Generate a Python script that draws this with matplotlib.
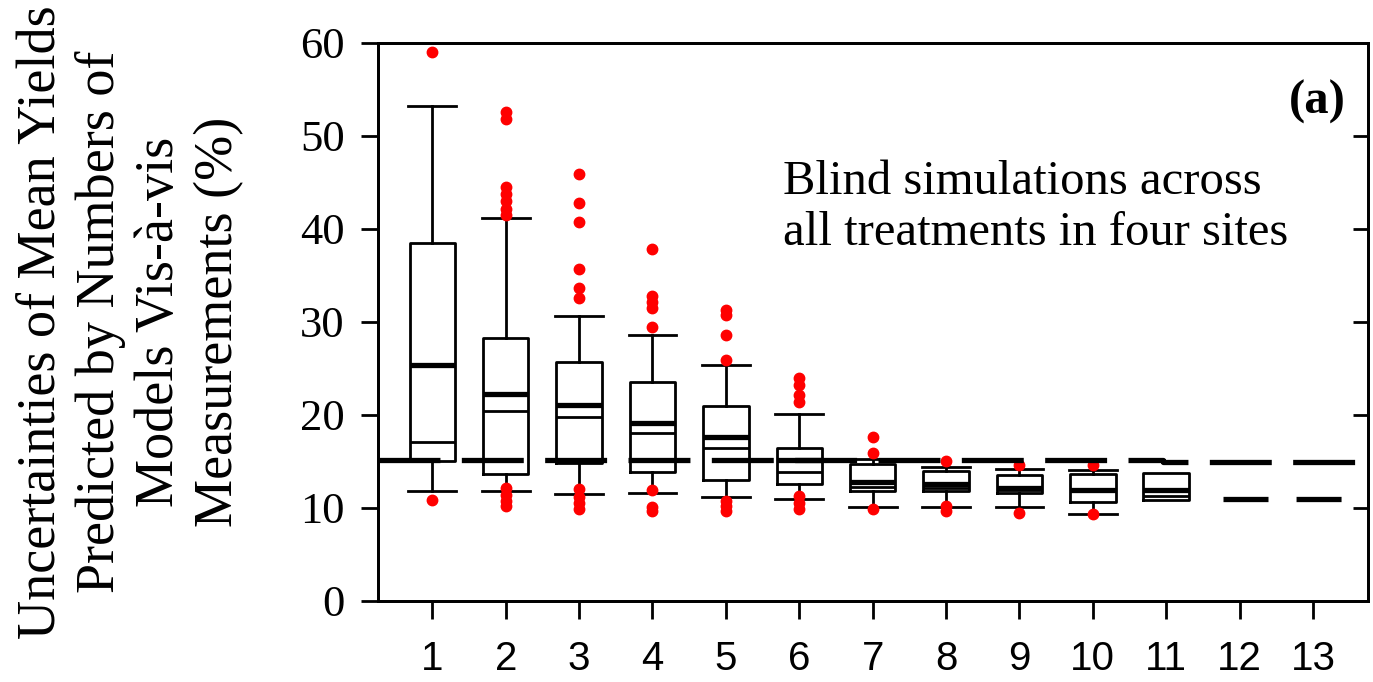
import matplotlib
matplotlib.use("Agg")
import matplotlib.pyplot as plt

plt.rcParams['font.family'] = ['Liberation Serif', 'DejaVu Serif']
plt.rcParams['lines.scale_dashes'] = False

# number of models in the ensemble
n_models = [1, 2, 3, 4, 5, 6, 7, 8, 9, 10, 11]

# box statistics (%)
q1 = [15.0, 13.6, 14.8, 13.9, 13.0, 12.6, 11.8, 11.8, 11.6, 10.6, 10.9]
med = [17.1, 20.4, 19.8, 18.1, 16.4, 13.9, 12.3, 12.2, 11.9, 11.9, 11.3]
mean = [25.4, 22.3, 21.1, 19.1, 17.6, 15.2, 12.8, 12.6, 12.1, 11.9, 11.9]
q3 = [38.5, 28.3, 25.7, 23.5, 21.0, 16.5, 14.7, 14.0, 13.5, 13.6, 13.8]
whislo = [11.8, 11.8, 11.5, 11.6, 11.2, 11.0, 10.1, 10.1, 10.1, 9.3, 10.9]
whishi = [53.2, 41.2, 30.6, 28.6, 25.4, 20.1, 15.3, 14.4, 14.2, 14.1, 13.8]
outliers = [
    [59.0, 10.9],
    [52.6, 51.8, 44.5, 43.8, 43.0, 42.2, 41.5, 12.2, 11.4, 10.8, 10.2],
    [45.9, 42.8, 40.8, 35.7, 33.6, 32.6, 12.0, 11.2, 10.5, 9.9],
    [37.9, 32.8, 32.2, 31.5, 29.5, 11.9, 10.1, 9.7],
    [31.3, 30.8, 28.6, 25.9, 10.8, 10.2, 9.7],
    [24.0, 23.2, 22.2, 21.4, 11.3, 10.5, 9.9],
    [17.6, 15.9, 9.9],
    [15.0, 10.2, 9.7],
    [14.6, 9.5],
    [14.6, 9.4],
    [],
]

# thick dashed reference lines
ref_upper_x = [0.26, 10.95, 10.95, 13.75]
ref_upper_y = [15.2, 15.2, 14.9, 14.9]
ref_lower_x = [11.77, 13.45]
ref_lower_y = [11.0, 11.0]

x_ticks = list(range(1, 14))
y_ticks = [0, 10, 20, 30, 40, 50, 60]

stats = []
for i in range(len(n_models)):
    stats.append(dict(q1=q1[i], med=med[i], mean=mean[i], q3=q3[i],
                      whislo=whislo[i], whishi=whishi[i], fliers=outliers[i]))

fig = plt.figure(figsize=(13.73, 6.82), dpi=100)
ax = fig.add_axes([0.2753, 0.1188, 0.7211, 0.8182])

box_kw = dict(widths=0.62, capwidths=0.65, showmeans=True, meanline=True,
              boxprops=dict(color='black', linewidth=2),
              whiskerprops=dict(color='black', linewidth=2),
              capprops=dict(color='black', linewidth=2),
              medianprops=dict(color='black', linewidth=2),
              meanprops=dict(color='black', linewidth=3.8, linestyle='-'),
              flierprops=dict(marker='o', markerfacecolor='red', markeredgecolor='red',
                              markersize=7.5))

ax.bxp(stats[:10], positions=n_models[:10], **box_kw)
ax.bxp(stats[10:], positions=n_models[10:], showcaps=False, **box_kw)

ax.plot(ref_upper_x, ref_upper_y, color='black', linewidth=3.8,
        dashes=(44.6, 15.4), dash_capstyle='butt')
ax.plot(ref_lower_x, ref_lower_y, color='black', linewidth=3.8,
        dashes=(32.4, 20.2), dash_capstyle='butt')

ax.set_xlim(0.26, 13.75)
ax.set_ylim(0, 60)
ax.set_xticks(x_ticks)
ax.set_xticklabels([str(t) for t in x_ticks], family='Liberation Sans', fontsize=29)
ax.set_yticks(y_ticks)
ax.tick_params(axis='y', direction='out', length=12, width=2, pad=12, labelsize=32)
ax.tick_params(axis='x', direction='out', length=13, width=2, pad=15)
for s in ax.spines.values():
    s.set_linewidth(2)

ax2 = ax.twinx()
ax2.set_ylim(0, 60)
ax2.set_yticks([10, 20, 30, 40, 50])
ax2.tick_params(axis='y', direction='in', length=11, width=2, labelright=False)
for s in ax2.spines.values():
    s.set_linewidth(2)

ax.set_ylabel('Uncertainties of Mean Yields\nPredicted by Numbers of\nModels Vis-à-vis\nMeasurements (%)',
              fontsize=39, linespacing=1.22, labelpad=40)

ax.text(0.409, 0.79, 'Blind simulations across\nall treatments in four sites',
        transform=ax.transAxes, fontsize=35, va='top', ha='left', linespacing=1.2)
ax.text(0.977, 0.895, '(a)', transform=ax.transAxes, fontsize=35,
        fontweight='bold', ha='right', va='center')

fig.savefig('out.png', dpi=100)
